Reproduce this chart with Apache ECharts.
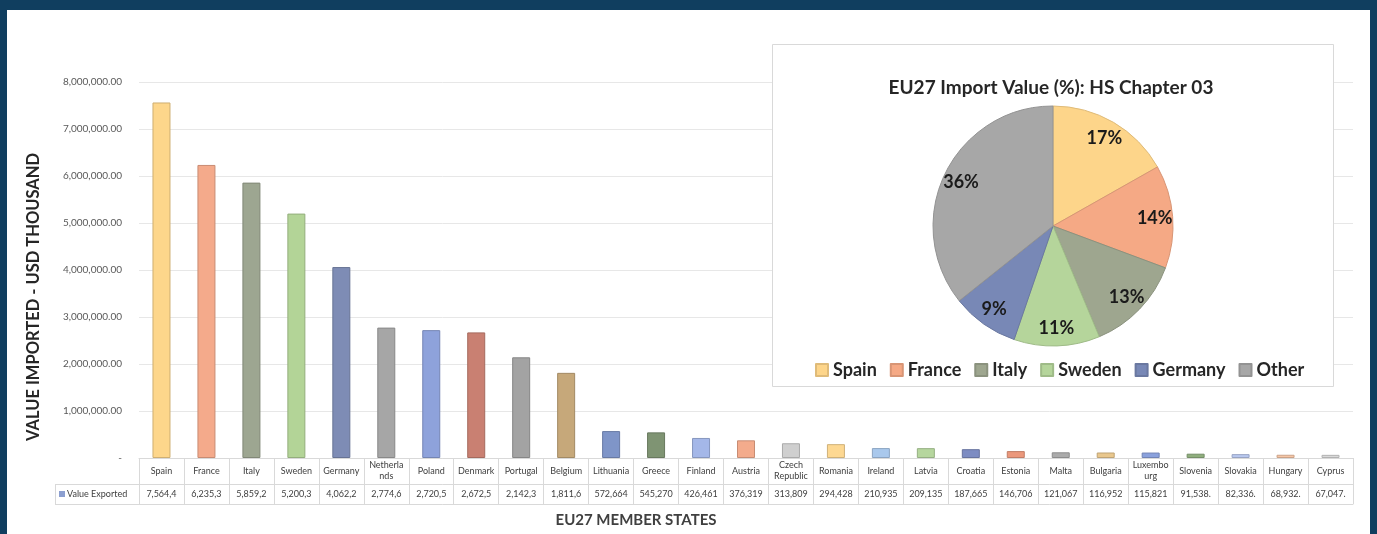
<!DOCTYPE html>
<html>
<head>
<meta charset="utf-8">
<title>EU27 Import Value: HS Chapter 03</title>
<script src="https://cdn.jsdelivr.net/npm/echarts@6/dist/echarts.min.js"></script>
<style>
  html, body { margin: 0; padding: 0; background: #ffffff; }
  #chart { width: 1377px; height: 534px; }
</style>
</head>
<body>
<div id="chart"></div>
<script>
// EU27 member states, sorted by import value (USD thousand)
const categories = ['Spain', 'France', 'Italy', 'Sweden', 'Germany', 'Netherlands', 'Poland', 'Denmark',
  'Portugal', 'Belgium', 'Lithuania', 'Greece', 'Finland', 'Austria', 'Czech Republic', 'Romania',
  'Ireland', 'Latvia', 'Croatia', 'Estonia', 'Malta', 'Bulgaria', 'Luxembourg', 'Slovenia',
  'Slovakia', 'Hungary', 'Cyprus'];
const importValues = [7564400, 6235300, 5859200, 5200300, 4062200, 2774600, 2720500, 2672500,
  2142300, 1811600, 572664, 545270, 426461, 376319, 313809, 294428,
  210935, 209135, 187665, 146706, 121067, 116952, 115821, 91538,
  82336, 68932, 67047];
// Header text as it wraps inside the narrow table cells
const headerLabels = {
  'Netherlands': 'Netherla\nnds',
  'Czech Republic': 'Czech\nRepublic',
  'Luxembourg': 'Luxembo\nurg'
};
const yTicks = { min: 0, max: 8000000, step: 1000000 };
const pieTopCount = 5;
const otherLabel = 'Other';

// Styling
const barColors = ['#fdd68b', '#f4aa8b', '#9da691', '#b3d497', '#7e8cb5', '#a6a6a6', '#8ea2db', '#c98072',
  '#a3a3a3', '#c6a87a', '#7f95c8', '#7f9473', '#a4b7e8', '#f3ab8c', '#cfcfcf', '#fdd892',
  '#a9c8ec', '#b6d69e', '#7d8cc2', '#eb987c', '#ababab', '#e9c78d', '#8aa1dd', '#8fae7d',
  '#b9c8ef', '#f7c6a6', '#d9d9d9'];
const pieColors = ['#fdd58a', '#f5a985', '#9ea68f', '#b5d59b', '#7888b6', '#a7a7a7'];
const FONT = 'Lato, "Open Sans", "DejaVu Sans", sans-serif';
const FRAME = '#103e5f';
const TABLE_LINE = '#d9d9d9';
const TEXT = '#404040';

const GRID = { left: 139, right: 24, top: 82, bottom: 76 };
const HEADER_ROW = 26;
const VALUE_ROW = 20;
const STUB_LEFT = 55;
const PIE_CX = 1053, PIE_CY = 226, PIE_R = 120;

function darken(hex, f) {
  const n = parseInt(hex.slice(1), 16);
  const r = Math.round(((n >> 16) & 255) * f);
  const g = Math.round(((n >> 8) & 255) * f);
  const b = Math.round((n & 255) * f);
  return 'rgb(' + r + ',' + g + ',' + b + ')';
}

function fmt(v) {
  const parts = v.toFixed(2).split('.');
  return parts[0].replace(/\B(?=(\d{3})+(?!\d))/g, ',') + '.' + parts[1];
}

const barData = importValues.map((v, i) => ({
  value: v,
  itemStyle: { color: barColors[i], borderColor: darken(barColors[i], 0.82), borderWidth: 1 }
}));

const pieNames = categories.slice(0, pieTopCount).concat([otherLabel]);
const pieValues = importValues.slice(0, pieTopCount)
  .concat([importValues.slice(pieTopCount).reduce((a, b) => a + b, 0)]);
const pieData = pieNames.map((name, i) => ({
  name: name,
  value: pieValues[i],
  itemStyle: { color: pieColors[i], borderColor: darken(pieColors[i], 0.88), borderWidth: 1 }
}));

const chartH = 534;
const axisY = chartH - GRID.bottom;          // baseline / top of the table
const midY = axisY + HEADER_ROW;              // line between header and value row
const bottomY = midY + VALUE_ROW;             // bottom border of the table

const chart = echarts.init(document.getElementById('chart'), null, { renderer: 'canvas' });

chart.setOption({
  backgroundColor: '#ffffff',
  animation: false,
  textStyle: { fontFamily: FONT },
  title: {
    text: 'EU27 Import Value (%): HS Chapter 03',
    left: 1046,
    top: 73,
    textAlign: 'center',
    z: 10,
    textStyle: { fontFamily: FONT, fontSize: 19, fontWeight: 'bold', color: '#262626' }
  },
  legend: {
    data: pieNames,
    left: 810,
    top: 356,
    z: 10,
    icon: 'rect',
    itemWidth: 12,
    itemHeight: 12,
    itemGap: 13,
    textStyle: { fontFamily: FONT, fontSize: 18, fontWeight: 'bold', color: '#262626' },
    selectedMode: false
  },
  grid: { left: GRID.left, right: GRID.right, top: GRID.top, bottom: GRID.bottom, containLabel: false },
  xAxis: [
    {
      // header row: country names, ticks form the cell dividers
      type: 'category',
      data: categories,
      position: 'bottom',
      axisLine: { show: true, lineStyle: { color: TABLE_LINE, width: 1 } },
      axisTick: { show: true, interval: 0, length: HEADER_ROW + VALUE_ROW, lineStyle: { color: TABLE_LINE } },
      axisLabel: {
        interval: 0,
        fontSize: 9,
        color: TEXT,
        fontFamily: FONT,
        lineHeight: 11,
        margin: 13,
        verticalAlign: 'middle',
        formatter: (name) => headerLabels[name] || name
      },
      splitLine: { show: false }
    },
    {
      // value row
      type: 'category',
      data: categories,
      position: 'bottom',
      offset: HEADER_ROW,
      axisLine: { show: true, lineStyle: { color: TABLE_LINE, width: 1 } },
      axisTick: { show: false },
      axisLabel: {
        interval: 0,
        fontSize: 9,
        color: TEXT,
        fontFamily: FONT,
        margin: 10,
        verticalAlign: 'middle',
        width: 35,
        overflow: 'truncate',
        ellipsis: '',
        formatter: (name, idx) => fmt(importValues[idx])
      }
    },
    {
      // bottom border of the table and the axis title
      type: 'category',
      data: categories,
      position: 'bottom',
      offset: HEADER_ROW + VALUE_ROW,
      axisLine: { show: true, lineStyle: { color: TABLE_LINE, width: 1 } },
      axisTick: { show: false },
      axisLabel: { show: false },
      name: 'EU27 MEMBER STATES',
      nameLocation: 'middle',
      nameGap: 9,
      nameTextStyle: {
        fontFamily: FONT, fontSize: 15, fontWeight: 'bold', color: '#404040',
        padding: [0, 220, 0, 0]
      }
    }
  ],
  yAxis: {
    type: 'value',
    min: yTicks.min,
    max: yTicks.max,
    interval: yTicks.step,
    axisLine: { show: false },
    axisTick: { show: false },
    splitLine: { lineStyle: { color: '#e7e7e7', width: 1 } },
    axisLabel: {
      fontSize: 10,
      color: '#595959',
      fontFamily: FONT,
      margin: 17,
      formatter: (v) => (v === 0 ? '-' : fmt(v))
    },
    name: 'VALUE IMPORTED - USD THOUSAND',
    nameLocation: 'middle',
    nameRotate: 90,
    nameGap: 97,
    nameTextStyle: {
      fontFamily: FONT, fontSize: 16.5, fontWeight: 'bold', color: '#262626',
      padding: [0, 54, 0, 0]
    }
  },
  series: [
    {
      name: 'Value Exported',
      type: 'bar',
      xAxisIndex: 0,
      yAxisIndex: 0,
      barWidth: 18,
      data: barData,
      z: 2
    },
    {
      name: 'EU27 Import Value (%)',
      type: 'pie',
      z: 10,
      center: [PIE_CX, PIE_CY],
      radius: [0, PIE_R],
      startAngle: 90,
      clockwise: true,
      percentPrecision: 0,
      data: pieData,
      label: {
        show: true,
        position: 'inside',
        formatter: '{d}%',
        fontFamily: FONT,
        fontSize: 18,
        fontWeight: 'bold',
        color: '#1a1a1a'
      },
      labelLine: { show: false },
      labelLayout: function (params) {
        // push the inside labels outward, towards the rim
        const r = params.labelRect;
        const lx = r.x + r.width / 2;
        const ly = r.y + r.height / 2;
        const k = 1.62;
        return { x: PIE_CX + (lx - PIE_CX) * k, y: PIE_CY + (ly - PIE_CY) * k };
      },
      emphasis: { disabled: true }
    }
  ],
  graphic: [
    // inset panel behind the pie
    { type: 'rect', z: 5, shape: { x: 772.5, y: 44.5, width: 561, height: 342 },
      style: { fill: '#ffffff', stroke: '#d9d9d9', lineWidth: 1 } },
    // stub column of the data table
    { type: 'line', z: 3, shape: { x1: STUB_LEFT, y1: midY + 0.5, x2: GRID.left, y2: midY + 0.5 },
      style: { stroke: TABLE_LINE, lineWidth: 1 } },
    { type: 'line', z: 3, shape: { x1: STUB_LEFT, y1: bottomY + 0.5, x2: GRID.left, y2: bottomY + 0.5 },
      style: { stroke: TABLE_LINE, lineWidth: 1 } },
    { type: 'line', z: 3, shape: { x1: STUB_LEFT + 0.5, y1: midY, x2: STUB_LEFT + 0.5, y2: bottomY },
      style: { stroke: TABLE_LINE, lineWidth: 1 } },
    { type: 'rect', z: 3, shape: { x: STUB_LEFT + 4, y: midY + 7, width: 6, height: 6 },
      style: { fill: '#8c9fd0' } },
    { type: 'text', z: 3, x: STUB_LEFT + 12, y: midY + VALUE_ROW / 2,
      style: { text: 'Value Exported', fontFamily: FONT, fontSize: 9, fill: TEXT, verticalAlign: 'middle' } },
    // outer frame
    { type: 'rect', z: 100, shape: { x: 0, y: 0, width: 1377, height: 10 }, style: { fill: FRAME } },
    { type: 'rect', z: 100, shape: { x: 0, y: 0, width: 7, height: 534 }, style: { fill: FRAME } },
    { type: 'rect', z: 100, shape: { x: 1370, y: 0, width: 7, height: 534 }, style: { fill: FRAME } }
  ]
});
</script>
</body>
</html>
